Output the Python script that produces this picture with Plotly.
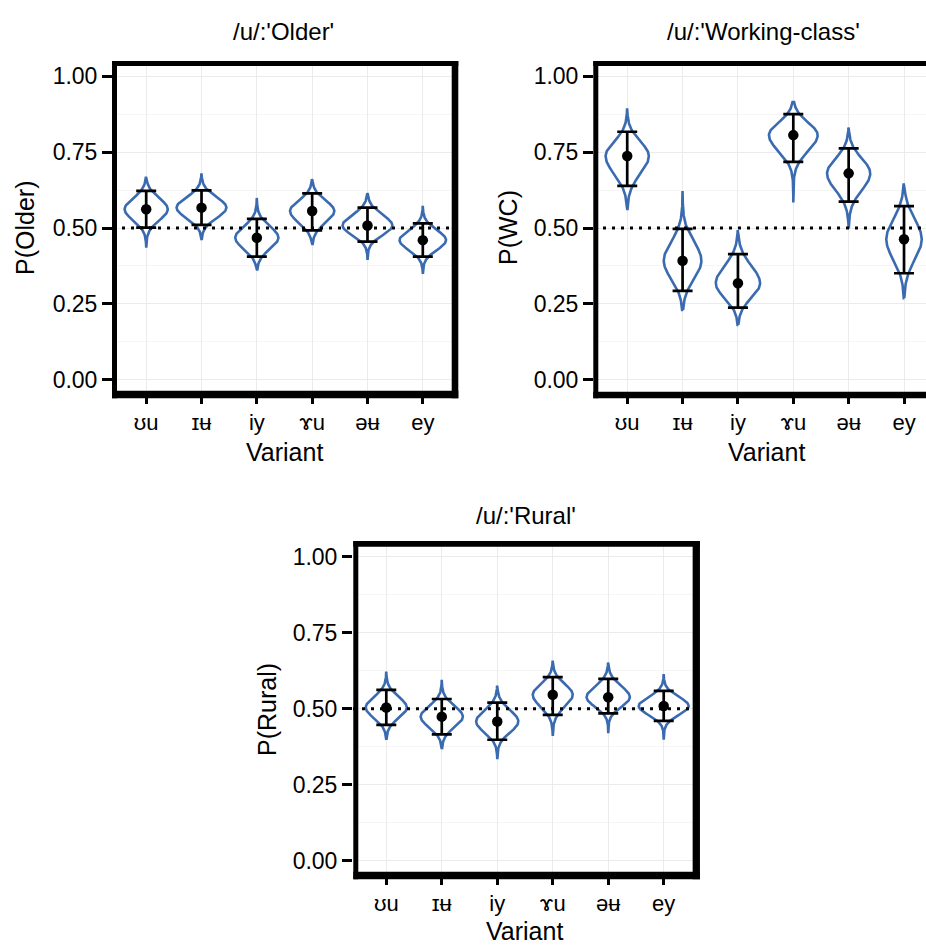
import numpy as np
import plotly.graph_objects as go

# ---------------- data ----------------
variants = ["ʊu", "ɪʉ", "iy", "ɤu", "əʉ", "ey"]
y_tickvals = [0.0, 0.25, 0.5, 0.75, 1.0]
y_ticktext = ["0.00", "0.25", "0.50", "0.75", "1.00"]
y_minor = [0.125, 0.375, 0.625, 0.875]

older_est = [0.562, 0.567, 0.468, 0.556, 0.508, 0.460]
older_lo = [0.501, 0.510, 0.406, 0.492, 0.455, 0.406]
older_hi = [0.622, 0.624, 0.530, 0.614, 0.567, 0.515]
older_min = [0.435, 0.460, 0.360, 0.444, 0.395, 0.349]
older_max = [0.669, 0.680, 0.599, 0.661, 0.614, 0.573]
older_width = [0.39, 0.45, 0.39, 0.40, 0.45, 0.42]

wc_est = [0.737, 0.392, 0.318, 0.806, 0.680, 0.463]
wc_lo = [0.639, 0.293, 0.238, 0.718, 0.587, 0.351]
wc_hi = [0.817, 0.497, 0.414, 0.875, 0.762, 0.572]
wc_min = [0.559, 0.230, 0.181, 0.584, 0.499, 0.269]
wc_max = [0.894, 0.622, 0.493, 0.915, 0.831, 0.647]
wc_width = [0.39, 0.34, 0.40, 0.44, 0.39, 0.32]

rural_est = [0.504, 0.474, 0.458, 0.546, 0.538, 0.509]
rural_lo = [0.447, 0.416, 0.398, 0.480, 0.485, 0.460]
rural_hi = [0.562, 0.532, 0.520, 0.604, 0.598, 0.559]
rural_min = [0.398, 0.367, 0.334, 0.411, 0.420, 0.398]
rural_max = [0.622, 0.595, 0.576, 0.658, 0.652, 0.614]
rural_width = [0.37, 0.38, 0.38, 0.36, 0.39, 0.45]

titles = ["/u/:'Older'", "/u/:'Working-class'", "/u/:'Rural'"]
ylabels = ["P(Older)", "P(WC)", "P(Rural)"]
xlabel = "Variant"

# ---------------- styling ----------------
W, H = 926, 945
FONT = "Liberation Sans, Arial, Helvetica, sans-serif"
BLUE = "#3A6BB0"
GRID = "#EBEBEB"
GRID_MINOR = "#F5F5F5"
SPREAD = 1.18  # kernel-smoothing broadening of the violin profile


def X(px):
    return px / W


def Y(py):
    return 1 - py / H


panels = [
    dict(est=older_est, lo=older_lo, hi=older_hi, vmin=older_min, vmax=older_max,
         vw=older_width, xdom=(113, 456), ydom=(61, 395), xr=(-0.6, 5.6)),
    dict(est=wc_est, lo=wc_lo, hi=wc_hi, vmin=wc_min, vmax=wc_max,
         vw=wc_width, xdom=(594, 926), ydom=(61, 395), xr=(-0.6, 5.397)),
    dict(est=rural_est, lo=rural_lo, hi=rural_hi, vmin=rural_min, vmax=rural_max,
         vw=rural_width, xdom=(353, 697), ydom=(541.5, 876), xr=(-0.6, 5.6)),
]

fig = go.Figure()
layout = dict(
    width=W, height=H, margin=dict(l=0, r=0, t=0, b=0),
    paper_bgcolor="white", plot_bgcolor="white", showlegend=False,
    font=dict(family=FONT, color="black"),
)

for i, p in enumerate(panels):
    sfx = "" if i == 0 else str(i + 1)
    xa, ya = "x" + sfx, "y" + sfx
    # violin outlines (split-normal profile built from the estimate / interval)
    for k in range(len(variants)):
        m, lo, hi = p["est"][k], p["lo"][k], p["hi"][k]
        su, sl = SPREAD * (hi - m) / 1.96, SPREAD * (m - lo) / 1.96
        ys = np.linspace(p["vmin"][k], p["vmax"][k], 160)
        s = np.where(ys >= m, su, sl)
        w = p["vw"][k] * np.exp(-0.5 * ((ys - m) / s) ** 2)
        xs = np.concatenate([k + w, (k - w)[::-1], [k + w[0]]])
        yy = np.concatenate([ys, ys[::-1], [ys[0]]])
        fig.add_trace(go.Scatter(
            x=xs, y=yy, mode="lines", fill="toself", fillcolor="white",
            line=dict(color=BLUE, width=2.6), hoverinfo="skip",
            xaxis=xa, yaxis=ya))
    # dotted reference line at 0.5
    fig.add_trace(go.Scatter(
        x=[p["xr"][0], p["xr"][1]], y=[0.5, 0.5], mode="lines",
        line=dict(color="black", width=3, dash="3px,6px"),
        hoverinfo="skip", xaxis=xa, yaxis=ya))
    # point estimates with intervals
    est = np.array(p["est"])
    fig.add_trace(go.Scatter(
        x=list(range(len(variants))), y=est, mode="markers",
        marker=dict(color="black", size=10.5),
        error_y=dict(type="data", symmetric=False,
                     array=np.array(p["hi"]) - est,
                     arrayminus=est - np.array(p["lo"]),
                     color="black", thickness=2.7, width=10),
        xaxis=xa, yaxis=ya))

    layout["xaxis" + sfx] = dict(
        domain=[X(p["xdom"][0]), X(p["xdom"][1])], range=list(p["xr"]),
        anchor=ya, tickmode="array", tickvals=list(range(len(variants))),
        ticktext=variants, ticks="outside", ticklen=8, tickwidth=2.5,
        tickcolor="black", showgrid=True, gridcolor=GRID, gridwidth=1.3,
        zeroline=False, showline=False,
        tickfont=dict(size=22, family=FONT, color="black"),
        fixedrange=True)
    layout["yaxis" + sfx] = dict(
        domain=[Y(p["ydom"][1]), Y(p["ydom"][0])], range=[-0.05, 1.05],
        anchor=xa, tickmode="array", tickvals=y_tickvals, ticktext=y_ticktext,
        ticks="outside", ticklen=10, tickwidth=2.5, tickcolor="black",
        showgrid=True, gridcolor=GRID, gridwidth=1.3, zeroline=False,
        showline=False, tickfont=dict(size=23, family=FONT, color="black"),
        minor=dict(tickvals=y_minor, showgrid=True, gridcolor=GRID_MINOR,
                   gridwidth=1, ticks=""),
        fixedrange=True)

fig.update_layout(**layout)

# ---------------- panel borders ----------------
shapes = []


def hline(x0, x1, yc, w):
    shapes.append(dict(type="line", xref="paper", yref="paper", x0=X(x0), x1=X(x1),
                       y0=Y(yc), y1=Y(yc), line=dict(color="black", width=w), layer="above"))


def vline(xc, y0, y1, w):
    shapes.append(dict(type="line", xref="paper", yref="paper", x0=X(xc), x1=X(xc),
                       y0=Y(y0), y1=Y(y1), line=dict(color="black", width=w), layer="above"))


# panel 1
vline(114.5, 61, 398.3, 5)
hline(112, 458.3, 63.5, 5)
vline(455, 61, 398.3, 6.6)
hline(112, 458.3, 394.5, 7.6)
# panel 2 (right edge is cut off by the page)
vline(595.8, 61, 398.3, 5)
hline(593.3, 930, 63.5, 5)
hline(593.3, 930, 395, 6.6)
# panel 3
vline(355.8, 541, 879.3, 5)
hline(353.3, 700, 543.8, 5.7)
vline(696.3, 541, 879.3, 7.3)
hline(353.3, 700, 875.5, 7.6)

fig.update_layout(shapes=shapes)

# ---------------- titles ----------------
ann = []
title_pos = [(283, 31), (763, 31), (526, 515)]
xlab_pos = [(284, 452), (766, 452), (524, 931)]
ylab_pos = [(25, 228), (508, 228), (267, 710)]
for i in range(3):
    ann.append(dict(text=titles[i], x=X(title_pos[i][0]), y=Y(title_pos[i][1]),
                    xref="paper", yref="paper", showarrow=False, xanchor="center",
                    yanchor="middle", font=dict(size=24, family=FONT, color="black")))
    ann.append(dict(text=xlabel, x=X(xlab_pos[i][0]), y=Y(xlab_pos[i][1]),
                    xref="paper", yref="paper", showarrow=False, xanchor="center",
                    yanchor="middle", font=dict(size=25, family=FONT, color="black")))
    ann.append(dict(text=ylabels[i], x=X(ylab_pos[i][0]), y=Y(ylab_pos[i][1]),
                    xref="paper", yref="paper", showarrow=False, xanchor="center",
                    yanchor="middle", textangle=-90,
                    font=dict(size=25, family=FONT, color="black")))
fig.update_layout(annotations=ann)

fig.write_html("out.html", config={"displayModeBar": False})
